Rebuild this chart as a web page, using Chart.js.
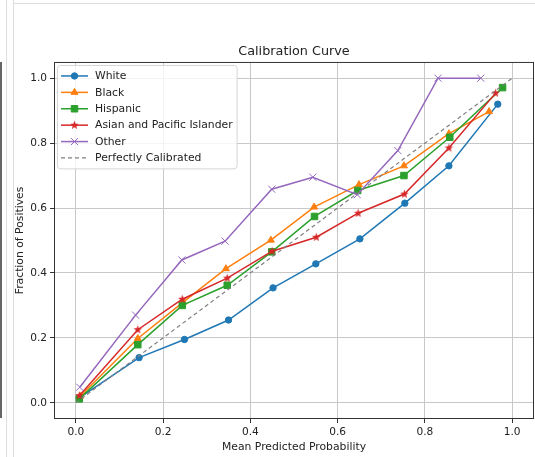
<!DOCTYPE html>
<html>
<head>
<meta charset="utf-8">
<title>Calibration Curve</title>
<script src="https://cdn.jsdelivr.net/npm/chart.js@4.4.0/dist/chart.umd.min.js"></script>
<style>
  html, body { margin: 0; padding: 0; background: #fff; }
  #wrap { position: relative; width: 535px; height: 457px; overflow: hidden; }
  #wrap canvas { position: absolute; left: 0; top: 0; }
  .edge { position: absolute; }
</style>
</head>
<body>
<div id="wrap">
  <div class="edge" style="left:0;top:62px;width:2px;height:356px;background:#666"></div>
  <div class="edge" style="left:6px;top:0;width:1px;height:457px;background:#ddd"></div>
  <div class="edge" style="left:13px;top:0;width:1px;height:457px;background:#ddd"></div>
  <div class="edge" style="left:13px;top:3px;width:522px;height:1px;background:#ddd"></div>
  <canvas id="calib" width="535" height="457"></canvas>
</div>
<script>
const xTicks = [0, 0.2, 0.4, 0.6, 0.8, 1.0];
const yTicks = [0, 0.2, 0.4, 0.6, 0.8, 1.0];

const whiteX = [0.008, 0.145, 0.249, 0.350, 0.452, 0.550, 0.651, 0.754, 0.855, 0.967];
const whiteY = [0.015, 0.139, 0.195, 0.255, 0.354, 0.428, 0.505, 0.615, 0.730, 0.920];

const blackX = [0.010, 0.142, 0.246, 0.344, 0.447, 0.546, 0.649, 0.752, 0.855, 0.947];
const blackY = [0.020, 0.198, 0.310, 0.413, 0.501, 0.603, 0.672, 0.730, 0.829, 0.897];

const hispanicX = [0.008, 0.142, 0.244, 0.347, 0.449, 0.547, 0.646, 0.752, 0.857, 0.978];
const hispanicY = [0.012, 0.179, 0.300, 0.362, 0.465, 0.574, 0.654, 0.700, 0.818, 0.971];

const asianX = [0.008, 0.142, 0.244, 0.347, 0.450, 0.551, 0.647, 0.753, 0.855, 0.962];
const asianY = [0.022, 0.225, 0.319, 0.384, 0.467, 0.510, 0.584, 0.643, 0.785, 0.954];

const otherX = [0.009, 0.137, 0.243, 0.342, 0.449, 0.543, 0.645, 0.738, 0.830, 0.928];
const otherY = [0.048, 0.270, 0.440, 0.498, 0.658, 0.695, 0.641, 0.777, 1.000, 1.000];

const perfectX = [0, 1];
const perfectY = [0, 1];

const FONT = '"DejaVu Sans", sans-serif';
const TEXT = '#222';

function pts(xs, ys) {
	return xs.map((x, i) => ({ x: x, y: ys[i] }));
}

// filled five point star, like matplotlib's '*'
function starMarker(color, r) {
	const c = document.createElement('canvas');
	const s = Math.ceil(r * 2 + 2);
	c.width = s; c.height = s;
	const g = c.getContext('2d');
	g.translate(s / 2, s / 2);
	g.beginPath();
	for (let i = 0; i < 10; i++) {
		const rad = i % 2 === 0 ? r : r * 0.42;
		const a = -Math.PI / 2 + i * Math.PI / 5;
		g.lineTo(Math.cos(a) * rad, Math.sin(a) * rad);
	}
	g.closePath();
	g.fillStyle = color;
	g.fill();
	return c;
}

function series(label, xs, ys, color, style, radius, order) {
	return {
		label: label,
		data: pts(xs, ys),
		borderColor: color,
		backgroundColor: color,
		pointBackgroundColor: color,
		pointBorderColor: color,
		pointBorderWidth: 1,
		pointStyle: style,
		pointRadius: radius,
		borderWidth: 1.5,
		tension: 0,
		fill: false,
		order: order
	};
}

const boxLegend = {
	id: 'boxLegend',
	afterDatasetsDraw(chart) {
		const ctx = chart.ctx, area = chart.chartArea;
		ctx.save();
		// axes frame
		ctx.strokeStyle = '#333';
		ctx.lineWidth = 1;
		ctx.strokeRect(area.left + 0.5, area.top + 0.5, area.right - area.left - 1, area.bottom - area.top - 1);

		const items = chart.data.datasets;
		ctx.font = '10.8px ' + FONT;
		const textW = Math.max(...items.map(d => ctx.measureText(d.label).width));
		const x0 = area.left + 3, y0 = area.top + 3;
		const rowH = 16.4;
		const w = 38 + textW + 4, h = items.length * rowH + 5;

		ctx.beginPath();
		ctx.roundRect(x0 + 0.5, y0 + 0.5, w, h, 3);
		ctx.fillStyle = 'rgba(255,255,255,0.8)';
		ctx.fill();
		ctx.strokeStyle = '#d6d6d6';
		ctx.stroke();

		items.forEach((d, i) => {
			const cy = y0 + 11 + i * rowH;
			ctx.strokeStyle = d.borderColor;
			ctx.lineWidth = d.borderWidth;
			ctx.setLineDash(d.borderDash || []);
			ctx.beginPath();
			ctx.moveTo(x0 + 4, cy);
			ctx.lineTo(x0 + 31, cy);
			ctx.stroke();
			ctx.setLineDash([]);
			if (d.pointRadius > 0 && Chart.helpers && Chart.helpers.drawPoint) {
				ctx.fillStyle = d.pointBackgroundColor;
				ctx.strokeStyle = d.pointBorderColor;
				ctx.lineWidth = d.pointBorderWidth;
				Chart.helpers.drawPoint(ctx, { pointStyle: d.pointStyle, radius: d.pointRadius, rotation: 0, borderWidth: d.pointBorderWidth }, x0 + 17.5, cy);
			}
			ctx.fillStyle = TEXT;
			ctx.textBaseline = 'middle';
			ctx.textAlign = 'left';
			ctx.fillText(d.label, x0 + 38, cy + 0.5);
		});
		ctx.restore();
	}
};

const perfect = {
	label: 'Perfectly Calibrated',
	data: pts(perfectX, perfectY),
	borderColor: '#808080',
	borderWidth: 1.2,
	borderDash: [4, 3],
	pointRadius: 0,
	fill: false,
	order: 1
};

new Chart(document.getElementById('calib'), {
	type: 'line',
	data: {
		datasets: [
			series('White', whiteX, whiteY, '#1f77b4', 'circle', 3.2, 6),
			series('Black', blackX, blackY, '#ff7f0e', 'triangle', 4, 5),
			series('Hispanic', hispanicX, hispanicY, '#2ca02c', 'rect', 4.6, 4),
			series('Asian and Pacific Islander', asianX, asianY, '#d62728', starMarker('#d62728', 4.5), 4, 3),
			series('Other', otherX, otherY, '#9467bd', 'crossRot', 5, 2),
			perfect
		]
	},
	options: {
		responsive: false,
		animation: false,
		devicePixelRatio: 1,
		layout: { autoPadding: false, padding: { left: 0, right: 1, top: 0, bottom: 0 } },
		plugins: {
			legend: { display: false },
			tooltip: { enabled: false },
			title: {
				display: true,
				fullSize: false,
				text: 'Calibration Curve',
				color: TEXT,
				font: { family: FONT, size: 12.8, weight: 'normal' },
				padding: { top: 44.3, bottom: 2.3 }
			}
		},
		scales: {
			x: {
				type: 'linear',
				min: -0.05,
				max: 1.05,
				afterBuildTicks: s => { s.ticks = xTicks.map(v => ({ value: v })); },
				afterFit: s => { s.height = 38; s.paddingLeft = 0; s.paddingRight = 0; },
				border: { display: false },
				grid: { color: '#c8c8c8', lineWidth: 1, tickLength: 4, tickColor: '#333' },
				ticks: {
					color: TEXT, padding: 3, maxRotation: 0,
					font: { family: FONT, size: 10.6 },
					callback: v => v.toFixed(1)
				},
				title: {
					display: true, text: 'Mean Predicted Probability', color: TEXT,
					font: { family: FONT, size: 10.8 },
					padding: { top: 0, bottom: 3.5 }
				}
			},
			y: {
				type: 'linear',
				min: -0.05,
				max: 1.05,
				afterBuildTicks: s => { s.ticks = yTicks.map(v => ({ value: v })); },
				afterFit: s => { s.width = 54; s.paddingTop = 0; s.paddingBottom = 0; },
				border: { display: false },
				grid: { color: '#c8c8c8', lineWidth: 1, tickLength: 4, tickColor: '#333' },
				ticks: {
					color: TEXT, padding: 3,
					font: { family: FONT, size: 10.6 },
					callback: v => v.toFixed(1)
				},
				title: {
					display: true, text: 'Fraction of Positives', color: TEXT,
					font: { family: FONT, size: 10.8 },
					padding: { top: 13.5, bottom: 0 }
				}
			}
		}
	},
	plugins: [boxLegend]
});
</script>
</body>
</html>
